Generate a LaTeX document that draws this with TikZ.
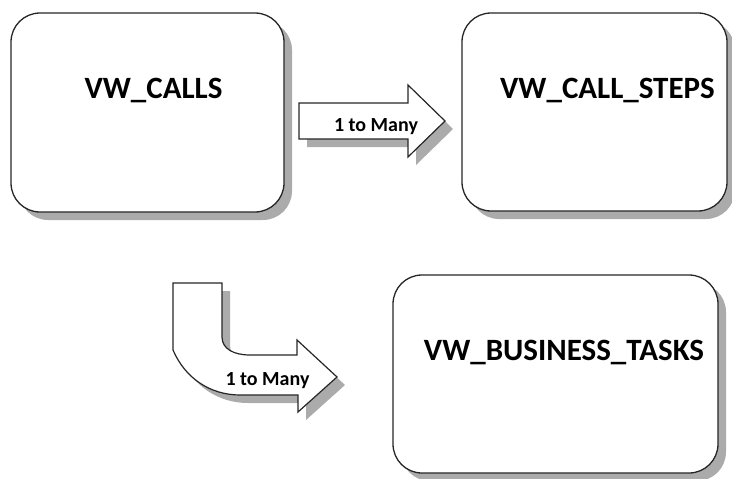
\documentclass[tikz,border=0pt]{standalone}
\usepackage{fontspec}
\setmainfont{Carlito}
\usetikzlibrary{shadows}
\begin{document}
\begin{tikzpicture}[x=1pt,y=-1pt,
  shadowed/.style={drop shadow={shadow xshift=8pt,shadow yshift=-8pt,fill=black!33,opacity=1}},
  box/.style={draw=black!85,line width=1.3pt,fill=white,rounded corners=29pt,shadowed},
  blockarrow/.style={draw=black!85,line width=1.2pt,fill=white,shadowed},
  lbl/.style={font=\fontsize{31}{31}\selectfont\bfseries,anchor=base,inner sep=0pt},
  albl/.style={font=\fontsize{20}{20}\selectfont\bfseries,anchor=base,inner sep=0pt}]
\useasboundingbox (0,0) rectangle (732,479);
% boxes
\node[box,minimum width=273pt,minimum height=199pt] (calls) at (147.5,112.5) {};
\node[lbl] (callsT) at (153.5,98) {VW\_CALLS};
\node[box,minimum width=265pt,minimum height=198pt] (steps) at (594.5,112) {};
\node[lbl] (stepsT) at (607.5,98) {VW\_CALL\_STEPS};
\node[box,minimum width=325pt,minimum height=198pt] (tasks) at (555.5,374) {};
\node[lbl] (tasksT) at (564,360) {VW\_BUSINESS\_TASKS};
% straight block arrow
\draw[blockarrow] (299,103) -- (408,103) -- (408,85) -- (445,121) -- (408,157) -- (408,139) -- (299,139) -- cycle;
\node[albl] (a1) at (376,131) {1 to Many};
% bent block arrow
\draw[blockarrow] (173,283) -- (173,350) .. controls (185,378) and (210,395) .. (240,395)
  -- (298,395) -- (298,412) -- (337,377) -- (297,340) -- (297,355) -- (250,355)
  .. controls (234,355) and (222,349) .. (222,337) -- (222,283) -- cycle;
\node[albl] (a2) at (267.5,385) {1 to Many};
\end{tikzpicture}
\end{document}
